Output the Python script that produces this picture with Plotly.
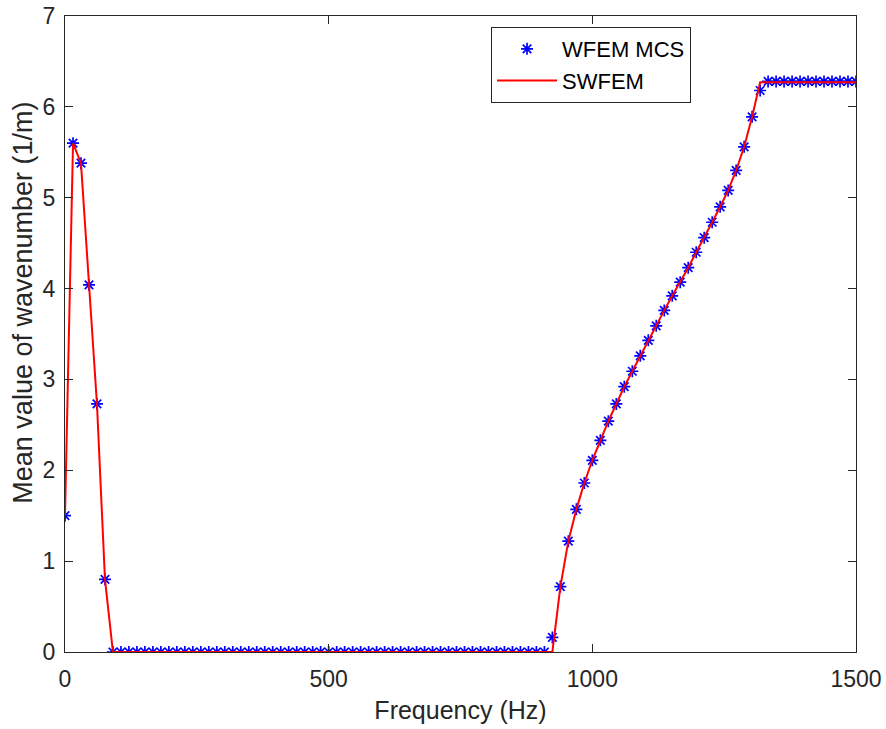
import plotly.graph_objects as go

# Frequency grid (Hz), 100 samples from 0 to 1500 Hz
frequency = [
    0.0, 15.2, 30.3, 45.5, 60.6, 75.8, 90.9, 106.1, 121.2, 136.4,
    151.5, 166.7, 181.8, 197.0, 212.1, 227.3, 242.4, 257.6, 272.7, 287.9,
    303.0, 318.2, 333.3, 348.5, 363.6, 378.8, 393.9, 409.1, 424.2, 439.4,
    454.5, 469.7, 484.8, 500.0, 515.2, 530.3, 545.5, 560.6, 575.8, 590.9,
    606.1, 621.2, 636.4, 651.5, 666.7, 681.8, 697.0, 712.1, 727.3, 742.4,
    757.6, 772.7, 787.9, 803.0, 818.2, 833.3, 848.5, 863.6, 878.8, 893.9,
    909.1, 924.2, 939.4, 954.5, 969.7, 984.8, 1000.0, 1015.2, 1030.3, 1045.5,
    1060.6, 1075.8, 1090.9, 1106.1, 1121.2, 1136.4, 1151.5, 1166.7, 1181.8, 1197.0,
    1212.1, 1227.3, 1242.4, 1257.6, 1272.7, 1287.9, 1303.0, 1318.2, 1333.3, 1348.5,
    1363.6, 1378.8, 1393.9, 1409.1, 1424.2, 1439.4, 1454.5, 1469.7, 1484.8, 1500.0,
]

# Mean wavenumber (1/m) from WFEM Monte Carlo simulation
wfem_mcs = [
    1.5, 5.6, 5.38, 4.04, 2.73, 0.8, 0.0, 0.0, 0.0, 0.0,
    0.0, 0.0, 0.0, 0.0, 0.0, 0.0, 0.0, 0.0, 0.0, 0.0,
    0.0, 0.0, 0.0, 0.0, 0.0, 0.0, 0.0, 0.0, 0.0, 0.0,
    0.0, 0.0, 0.0, 0.0, 0.0, 0.0, 0.0, 0.0, 0.0, 0.0,
    0.0, 0.0, 0.0, 0.0, 0.0, 0.0, 0.0, 0.0, 0.0, 0.0,
    0.0, 0.0, 0.0, 0.0, 0.0, 0.0, 0.0, 0.0, 0.0, 0.0,
    0.0, 0.16, 0.72, 1.22, 1.57, 1.86, 2.11, 2.33, 2.54, 2.73,
    2.92, 3.09, 3.26, 3.43, 3.59, 3.76, 3.92, 4.07, 4.23, 4.4,
    4.56, 4.73, 4.9, 5.08, 5.3, 5.56, 5.89, 6.18, 6.28, 6.28,
    6.28, 6.28, 6.28, 6.28, 6.28, 6.28, 6.28, 6.28, 6.28, 6.28,
]

# Mean wavenumber (1/m) from the stochastic WFEM
swfem = [
    1.5, 5.6, 5.38, 4.04, 2.73, 0.8, 0.0, 0.0, 0.0, 0.0,
    0.0, 0.0, 0.0, 0.0, 0.0, 0.0, 0.0, 0.0, 0.0, 0.0,
    0.0, 0.0, 0.0, 0.0, 0.0, 0.0, 0.0, 0.0, 0.0, 0.0,
    0.0, 0.0, 0.0, 0.0, 0.0, 0.0, 0.0, 0.0, 0.0, 0.0,
    0.0, 0.0, 0.0, 0.0, 0.0, 0.0, 0.0, 0.0, 0.0, 0.0,
    0.0, 0.0, 0.0, 0.0, 0.0, 0.0, 0.0, 0.0, 0.0, 0.0,
    0.0, 0.0, 0.72, 1.22, 1.57, 1.86, 2.11, 2.33, 2.54, 2.73,
    2.92, 3.09, 3.26, 3.43, 3.59, 3.76, 3.92, 4.07, 4.23, 4.4,
    4.56, 4.73, 4.9, 5.08, 5.3, 5.56, 5.89, 6.27, 6.27, 6.27,
    6.27, 6.27, 6.27, 6.27, 6.27, 6.27, 6.27, 6.27, 6.27, 6.27,
]

x_ticks = [0, 500, 1000, 1500]
y_ticks = [0, 1, 2, 3, 4, 5, 6, 7]

AXIS_COLOR = "#262626"
FONT = "Liberation Sans, Arial, sans-serif"

fig = go.Figure()
fig.add_trace(go.Scatter(
    x=frequency, y=wfem_mcs, mode="markers", name="WFEM MCS",
    marker=dict(symbol="asterisk-open", size=10, color="#0000FF",
                line=dict(color="#0000FF", width=1.7)),
))
fig.add_trace(go.Scatter(
    x=frequency, y=swfem, mode="lines", name="SWFEM",
    line=dict(color="#FF0000", width=2),
))

axis_common = dict(
    showline=True, linecolor=AXIS_COLOR, linewidth=1, mirror="ticks",
    ticks="inside", ticklen=8, tickwidth=1, tickcolor=AXIS_COLOR,
    showgrid=False, zeroline=False, automargin=False,
    tickfont=dict(family=FONT, size=23, color=AXIS_COLOR),
)

fig.update_xaxes(
    range=[0, 1500], tickvals=x_ticks, ticktext=[str(v) for v in x_ticks],
    ticklabelstandoff=6,
    title=dict(text="Frequency (Hz)", font=dict(family=FONT, size=25, color=AXIS_COLOR),
               standoff=10),
    **axis_common,
)
fig.update_yaxes(
    range=[0, 7], tickvals=y_ticks, ticktext=[str(v) for v in y_ticks],
    ticklabelstandoff=4,
    **axis_common,
)

# Vertical axis label, placed slightly above the axis midpoint
fig.add_annotation(
    text="Mean value of wavenumber (1/m)", textangle=-90,
    xref="paper", yref="paper", x=-0.0525, y=0.55,
    xanchor="center", yanchor="middle", showarrow=False,
    font=dict(family=FONT, size=27, color=AXIS_COLOR),
)

fig.update_layout(
    width=886, height=729,
    margin=dict(l=65, r=30, t=16, b=77),
    paper_bgcolor="white", plot_bgcolor="white",
    font=dict(family=FONT, color=AXIS_COLOR),
    legend=dict(
        x=0.5386, y=0.9827, xanchor="left", yanchor="top",
        bgcolor="white", bordercolor=AXIS_COLOR, borderwidth=1,
        font=dict(family=FONT, size=22, color="black"),
        itemwidth=60, tracegroupgap=0,
    ),
    showlegend=True,
)

fig.write_html("out.html")
